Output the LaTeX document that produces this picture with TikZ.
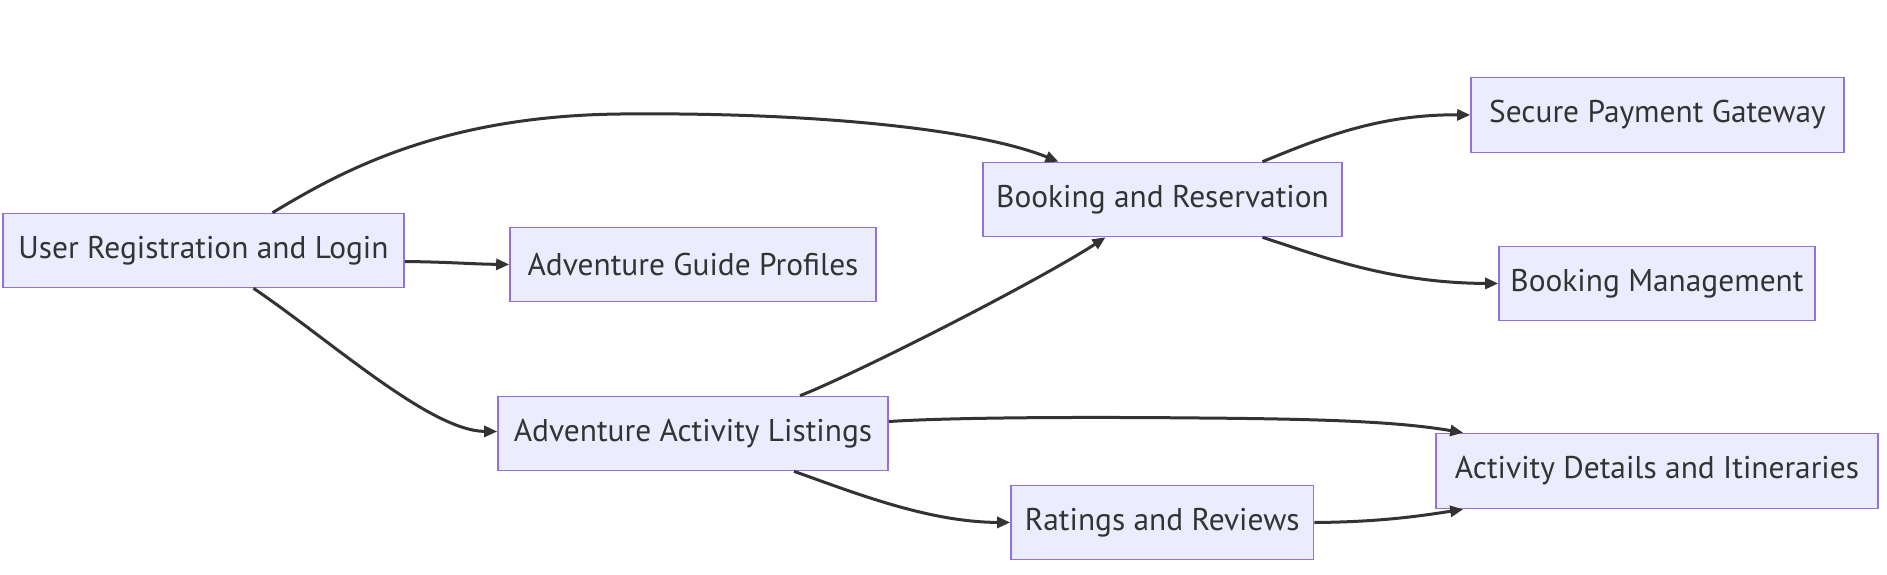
\documentclass[tikz,border=0pt]{standalone}
\usepackage{fontspec}
\setmainfont{PT Sans}
\usetikzlibrary{arrows.meta,calc}
\definecolor{boxfill}{HTML}{ECECFF}
\definecolor{boxline}{HTML}{9370DB}
\definecolor{edgecol}{HTML}{333333}
\begin{document}
\begin{tikzpicture}[x=0.5pt,y=-0.5pt,
  box/.style={draw=boxline,fill=boxfill,line width=0.8pt,inner sep=0pt,
    text=edgecol,font=\fontsize{15.7}{18}\selectfont},
  edge/.style={draw=edgecol,line width=1.5pt,-{Triangle[length=6.5pt,width=5.5pt]}}]
\useasboundingbox (0,0) rectangle (1887,574);
\node[box,minimum width=200.5pt,minimum height=37pt] (u) at (203.5,250.5) {User Registration and Login};
\node[box,minimum width=183pt,minimum height=37pt] (g) at (693,264.5) {Adventure Guide Profiles};
\node[box,minimum width=179.5pt,minimum height=37pt] (b) at (1162.5,199.5) {Booking and Reservation};
\node[box,minimum width=186.5pt,minimum height=37.5pt] (s) at (1657.5,115) {Secure Payment Gateway};
\node[box,minimum width=158pt,minimum height=37pt] (m) at (1657,283.5) {Booking Management};
\node[box,minimum width=195pt,minimum height=37pt] (l) at (693,433.5) {Adventure Activity Listings};
\node[box,minimum width=151.25pt,minimum height=37pt] (r) at (1162.25,522.5) {Ratings and Reviews};
\node[box,minimum width=221pt,minimum height=37.5pt] (d) at (1657,471) {Activity Details and Itineraries};

% User -> Booking
\draw[edge] ($(u.north)+(69,0)$) .. controls (340,172) and (440,116) .. (620,114)
  .. controls (820,112) and (980,130) .. ($(b.north)+(-104,0)$);
% User -> Guide
\draw[edge] ($(u.east)+(0,11)$) .. controls (450,262) and (470,264) .. (g.west);
% User -> Listings
\draw[edge] ($(u.south)+(50,0)$) .. controls (330,340) and (430,431) .. ($(l.west)+(0,-2)$);
% Listings -> Booking
\draw[edge] ($(l.north)+(107,0)$) .. controls (860,372) and (1040,280) .. ($(b.south)+(-57,0)$);
% Booking -> Secure
\draw[edge] ($(b.north)+(100,0)$) .. controls (1320,138) and (1380,114) .. (s.west);
% Booking -> Management
\draw[edge] ($(b.south)+(100,0)$) .. controls (1320,256) and (1390,283) .. (m.west);
% Listings -> Details
\draw[edge] ($(l.east)+(0,-12)$) .. controls (960,417) and (1100,417) .. (1200,418)
  .. controls (1330,419) and (1400,422) .. ($(d.north west)+(28,0)$);
% Listings -> Ratings
\draw[edge] ($(l.south)+(101,0)$) .. controls (860,495) and (930,522) .. (r.west);
% Ratings -> Details
\draw[edge] (r.east) .. controls (1380,522) and (1420,516) .. ($(d.south west)+(28,0)$);
\end{tikzpicture}
\end{document}
